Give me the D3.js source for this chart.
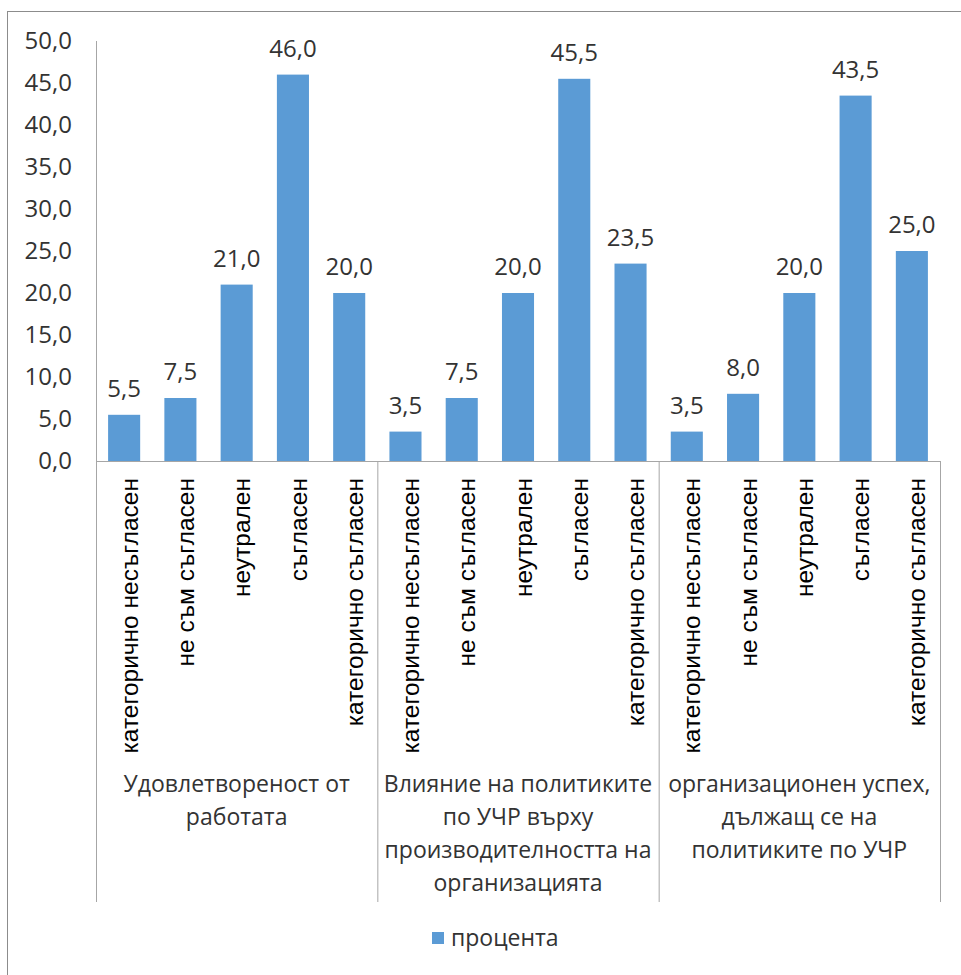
<!DOCTYPE html>
<html>
<head>
<meta charset="utf-8">
<script src="https://cdn.jsdelivr.net/npm/d3@7/dist/d3.min.js"></script>
<style>
  html, body { margin: 0; padding: 0; background: #fff; }
  svg { display: block; }
</style>
</head>
<body>
<svg id="chart" width="961" height="975"></svg>
<script>
// Survey answers (percent) for three statements about HR policy
const groups = [
  ["Удовлетвореност от", "работата"],
  ["Влияние на политиките", "по УЧР върху", "производителността на", "организацията"],
  ["организационен успех,", "дължащ се на", "политиките по УЧР"]
];
const answers = ["категорично несъгласен", "не съм съгласен", "неутрален", "съгласен", "категорично съгласен"];
const values = [
  [5.5, 7.5, 21.0, 46.0, 20.0],
  [3.5, 7.5, 20.0, 45.5, 23.5],
  [3.5, 8.0, 20.0, 43.5, 25.0]
];
const yTicks = [0, 5, 10, 15, 20, 25, 30, 35, 40, 45, 50];
const seriesName = "процента";

const svg = d3.select("#chart");
const fmt = v => d3.format(".1f")(v).replace(".", ",");
const uiFont = "'Open Sans', 'Noto Sans', sans-serif";
const textColor = "#333";
const axisColor = "#a6a6a6";

const plot = { left: 96, right: 940, top: 41, bottom: 461 };

// outer chart frame
svg.append("rect")
  .attr("x", 7.5).attr("y", 11.5)
  .attr("width", 1000).attr("height", 1000)
  .attr("fill", "none").attr("stroke", "#8c8c8c").attr("stroke-width", 1);

const y = d3.scaleLinear().domain([0, 50]).range([plot.bottom, plot.top]);
const xGroup = d3.scaleBand().domain(d3.range(groups.length)).range([plot.left, plot.right]).padding(0);
const xInner = d3.scaleBand().domain(d3.range(answers.length)).range([0, xGroup.bandwidth()])
  .paddingInner(0.43).paddingOuter(0.215);

// y axis
const yAxis = d3.axisLeft(y).tickValues(yTicks).tickSize(0).tickPadding(24).tickFormat(fmt);
const gy = svg.append("g").attr("transform", `translate(${plot.left},0)`).call(yAxis);
gy.select(".domain").attr("stroke", axisColor).attr("d", `M0.5,${plot.top}V${plot.bottom}`);
gy.selectAll("text").attr("font-family", uiFont).attr("font-size", 24).attr("fill", textColor);

// bars
const flat = [];
values.forEach((row, gi) => row.forEach((v, ai) => flat.push({ gi, ai, v })));
const cx = d => xGroup(d.gi) + xInner(d.ai) + xInner.bandwidth() / 2;

svg.append("g").selectAll("rect").data(flat).join("rect")
  .attr("x", d => xGroup(d.gi) + xInner(d.ai))
  .attr("y", d => y(d.v))
  .attr("width", xInner.bandwidth())
  .attr("height", d => y(0) - y(d.v))
  .attr("fill", "#5b9bd5");

// value labels
svg.append("g").selectAll("text").data(flat).join("text")
  .attr("x", cx)
  .attr("y", d => y(d.v) - 18)
  .attr("text-anchor", "middle")
  .attr("font-family", uiFont).attr("font-size", 24).attr("fill", textColor)
  .text(d => fmt(d.v));

// category baseline and group separators
const axisG = svg.append("g").attr("stroke", axisColor).attr("fill", "none");
axisG.append("line").attr("x1", plot.left).attr("x2", plot.right + 0.5)
  .attr("y1", plot.bottom + 0.5).attr("y2", plot.bottom + 0.5);
const sepBottom = 902;
d3.range(groups.length + 1).forEach(i => {
  const xs = i < groups.length ? xGroup(i) : plot.right;
  axisG.append("line").attr("x1", xs + 0.5).attr("x2", xs + 0.5)
    .attr("y1", plot.bottom).attr("y2", sepBottom);
});

// rotated answer labels
svg.append("g").selectAll("text").data(flat).join("text")
  .attr("transform", d => `translate(${cx(d) + 5},478) rotate(-90)`)
  .attr("text-anchor", "end")
  .attr("dy", "0.35em")
  .attr("font-family", "'Liberation Sans', Arial, sans-serif")
  .attr("font-size", 24.5).attr("fill", "#000")
  .text(d => answers[d.ai]);

// group labels
groups.forEach((lines, gi) => {
  const t = svg.append("text")
    .attr("text-anchor", "middle")
    .attr("font-family", uiFont).attr("font-size", 23).attr("fill", textColor);
  lines.forEach((ln, li) => {
    t.append("tspan")
      .attr("x", xGroup(gi) + xGroup.bandwidth() / 2)
      .attr("y", 784 + li * 33)
      .attr("dy", "0.35em")
      .text(ln);
  });
});

// legend
const lg = svg.append("g").attr("transform", "translate(432,932)");
lg.append("rect").attr("width", 12).attr("height", 12).attr("fill", "#5b9bd5");
lg.append("text").attr("x", 19).attr("y", 6).attr("dy", "0.35em")
  .attr("font-family", uiFont).attr("font-size", 23).attr("fill", textColor)
  .text(seriesName);
</script>
</body>
</html>
